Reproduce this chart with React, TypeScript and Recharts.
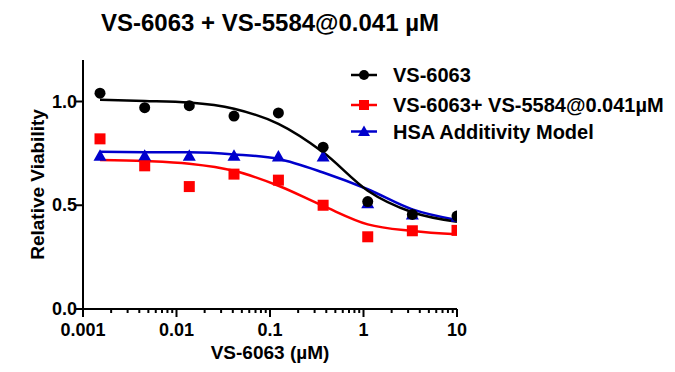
import { ComposedChart, Line, Scatter, XAxis, YAxis, Legend } from 'recharts';

const concentrations = [0.00152, 0.00457, 0.0137, 0.0412, 0.123, 0.37, 1.11, 3.33, 10];

const vs6063 = [1.04, 0.97, 0.98, 0.93, 0.945, 0.78, 0.518, 0.456, 0.448];
const combo = [0.82, 0.69, 0.59, 0.65, 0.621, 0.5, 0.348, 0.377, 0.379];
const hsa = [0.739, 0.739, 0.738, 0.738, 0.735, 0.735, 0.51, 0.455, 0.445];

// fitted curves at the same concentrations
const vs6063Fit = [1.008, 1.003, 0.995, 0.965, 0.892, 0.755, 0.57, 0.466, 0.42];
const comboFit = [0.718, 0.713, 0.7, 0.666, 0.594, 0.497, 0.408, 0.376, 0.36];
const hsaFit = [0.758, 0.756, 0.755, 0.745, 0.723, 0.658, 0.577, 0.48, 0.429];

const seriesNames = ['VS-6063', 'VS-6063+ VS-5584@0.041µM', 'HSA Additivity Model'];
const seriesColors = ['#000000', '#ff0000', '#0000cc'];

const decades = [0.001, 0.01, 0.1, 1, 10];
const yTicks = [0, 0.5, 1.0];

const minorTicks = decades.slice(0, -1).flatMap((d) => [2, 3, 4, 5, 6, 7, 8, 9].map((m) => +(d * m).toPrecision(3)));
const xTicks = [...decades, ...minorTicks].sort((a, b) => a - b);

const toPoints = (ys: number[]) => concentrations.map((x, i) => ({ x, y: ys[i] }));

const FONT = "'Liberation Sans Narrow', 'Arial Narrow', 'Liberation Sans', Arial, sans-serif";
const FONT_WIDE = "'Liberation Sans', Arial, sans-serif";

const CircleDot = (p: any) => <circle cx={p.cx} cy={p.cy} r={5.5} fill={seriesColors[0]} />;
const SquareDot = (p: any) => <rect x={p.cx - 5.5} y={p.cy - 5.5} width={11} height={11} fill={seriesColors[1]} />;
const TriangleDot = (p: any) => (
  <polygon points={`${p.cx},${p.cy - 6.5} ${p.cx + 6.5},${p.cy + 5} ${p.cx - 6.5},${p.cy + 5}`} fill={seriesColors[2]} />
);

const XTick = ({ x, y, payload }: any) => {
  const major = decades.includes(payload.value);
  return (
    <g>
      <line x1={x} x2={x} y1={y} y2={y + (major ? 8 : 4)} stroke="#000" strokeWidth={2} />
      {major && (
        <text x={x} y={y + 27} textAnchor="middle" fontFamily={FONT} fontWeight="bold" fontSize={18} fill="#000">
          {String(payload.value)}
        </text>
      )}
    </g>
  );
};

const YTick = ({ x, y, payload }: any) => (
  <g>
    <line x1={x} x2={x - 7} y1={y} y2={y} stroke="#000" strokeWidth={2} />
    <text x={x - 6} y={y + 6} textAnchor="end" fontFamily={FONT} fontWeight="bold" fontSize={18} fill="#000">
      {payload.value.toFixed(1)}
    </text>
  </g>
);

const YLabel = ({ viewBox }: any) => {
  const cx = viewBox.x + 14;
  const cy = viewBox.y + viewBox.height / 2;
  return (
    <text x={cx} y={cy} transform={`rotate(-90 ${cx} ${cy})`} textAnchor="middle" dominantBaseline="central"
      fontFamily={FONT} fontWeight="bold" fontSize={19} fill="#000">
      Relative Viability
    </text>
  );
};

const XLabel = ({ viewBox }: any) => (
  <text x={viewBox.x + viewBox.width / 2} y={viewBox.y + 50} textAnchor="middle"
    fontFamily={FONT} fontWeight="bold" fontSize={19} fill="#000">
    VS-6063 (µM)
  </text>
);

const rowY = [15, 45, 71.5];

const LegendBox = () => (
  <svg width={335} height={90}>
    {seriesNames.map((name, i) => {
      const cy = rowY[i];
      const c = seriesColors[i];
      return (
        <g key={name}>
          <line x1={11} x2={37} y1={cy} y2={cy} stroke={c} strokeWidth={2.5} />
          {i === 0 && <circle cx={24} cy={cy} r={5} fill={c} />}
          {i === 1 && <rect x={19} y={cy - 5} width={10} height={10} fill={c} />}
          {i === 2 && <polygon points={`24,${cy - 6} 30,${cy + 4.5} 18,${cy + 4.5}`} fill={c} />}
          <text x={53} y={cy + 7} fontFamily={FONT_WIDE} fontWeight="bold" fontSize={20} fill="#000">
            {name}
          </text>
        </g>
      );
    })}
  </svg>
);

export default function App() {
  return (
    <div style={{ position: 'absolute', left: 0, top: 0, width: 675, height: 372, background: '#fff' }}>
      <div
        style={{
          position: 'absolute', left: 0, top: 10, width: 540, textAlign: 'center',
          fontFamily: FONT, fontWeight: 'bold', fontSize: 24, color: '#000', lineHeight: '26px',
        }}
      >
        VS-6063 + VS-5584@0.041 µM
      </div>
      <ComposedChart width={675} height={372} margin={{ top: 60, right: 218, bottom: 33, left: 23 }}>
        <XAxis
          dataKey="x"
          type="number"
          scale="log"
          domain={[0.001, 10]}
          allowDataOverflow
          ticks={xTicks}
          interval={0}
          tick={<XTick />}
          tickLine={false}
          tickSize={0}
          tickMargin={0}
          height={30}
          axisLine={{ stroke: '#000', strokeWidth: 2 }}
          label={<XLabel />}
        />
        <YAxis
          dataKey="y"
          type="number"
          domain={[0, 1.2]}
          allowDataOverflow
          ticks={yTicks}
          interval={0}
          tick={<YTick />}
          tickLine={false}
          tickSize={0}
          tickMargin={0}
          width={60}
          axisLine={{ stroke: '#000', strokeWidth: 2 }}
          label={<YLabel />}
        />
        <Legend
          layout="horizontal"
          verticalAlign="middle"
          content={<LegendBox />}
          wrapperStyle={{ left: 340, top: 60, width: 335, height: 90 }}
        />
        <Line data={toPoints(hsaFit)} dataKey="y" type="monotone" stroke={seriesColors[2]} strokeWidth={2.5} dot={false} isAnimationActive={false} legendType="none" />
        <Line data={toPoints(comboFit)} dataKey="y" type="monotone" stroke={seriesColors[1]} strokeWidth={2.5} dot={false} isAnimationActive={false} legendType="none" />
        <Line data={toPoints(vs6063Fit)} dataKey="y" type="monotone" stroke={seriesColors[0]} strokeWidth={2.5} dot={false} isAnimationActive={false} legendType="none" />
        <Scatter data={toPoints(hsa)} dataKey="y" shape={<TriangleDot />} isAnimationActive={false} />
        <Scatter data={toPoints(combo)} dataKey="y" shape={<SquareDot />} isAnimationActive={false} />
        <Scatter data={toPoints(vs6063)} dataKey="y" shape={<CircleDot />} isAnimationActive={false} />
      </ComposedChart>
    </div>
  );
}
